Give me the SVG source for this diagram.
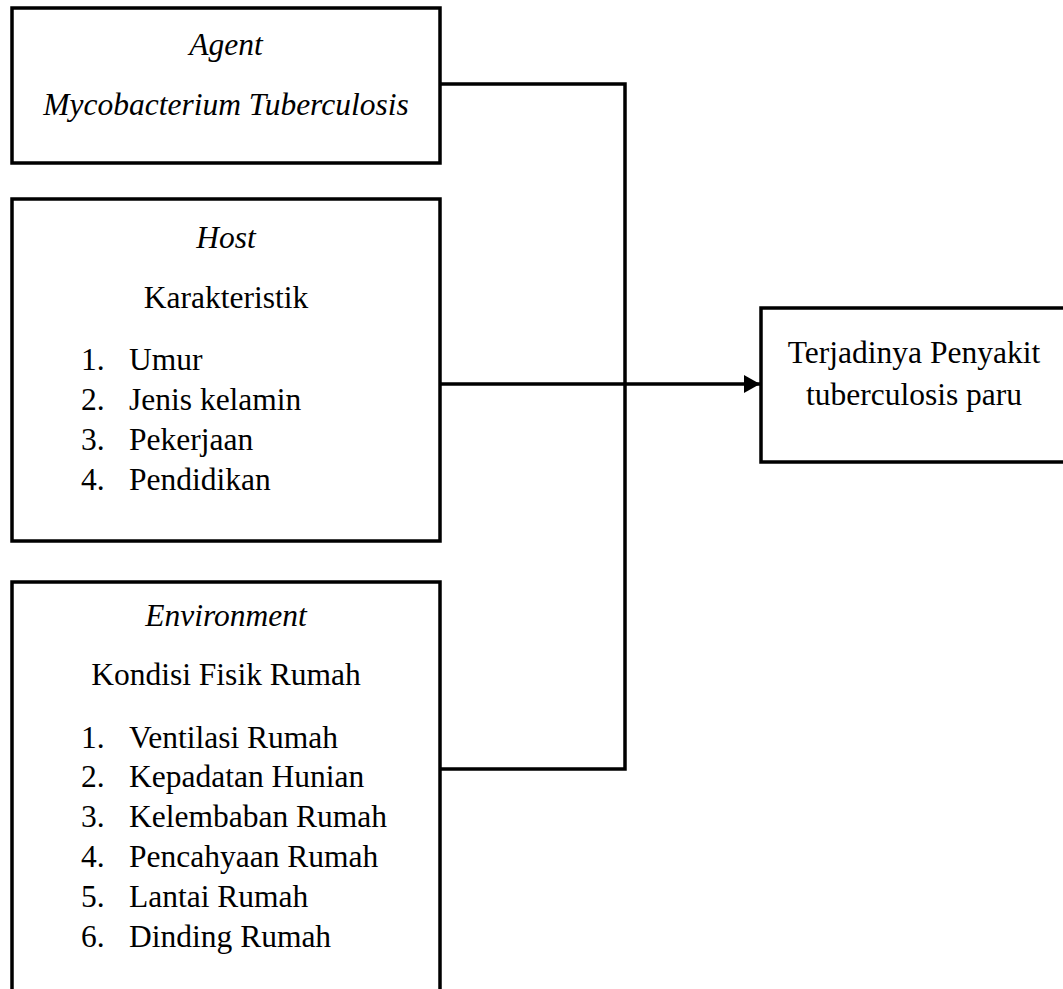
<svg xmlns="http://www.w3.org/2000/svg" width="1063" height="989" viewBox="0 0 1063 989">
<style>
.box{fill:#fff;stroke:#000;stroke-width:3.5}
.t{font-family:"Liberation Serif","Times New Roman",serif;font-size:31.5px;fill:#000}
.c{text-anchor:middle}
.i{font-style:italic}
.ln{fill:none;stroke:#000;stroke-width:3.5}
</style>
<defs>
<marker id="arr" markerUnits="userSpaceOnUse" markerWidth="18" markerHeight="18" refX="16" refY="9" orient="auto">
<path d="M0,0 L16,9 L0,18 Z" fill="#000"/>
</marker>
</defs>
<rect width="1063" height="989" fill="#fff"/>
<g id="agent">
<rect class="box" x="12" y="8" width="428" height="155"/>
<text class="t c i" x="226" y="55">Agent</text>
<text class="t c i" x="226" y="115">Mycobacterium Tuberculosis</text>
</g>
<g id="host">
<rect class="box" x="12" y="199" width="428" height="342"/>
<text class="t c i" x="226" y="248">Host</text>
<text class="t c" x="226" y="308">Karakteristik</text>
<text class="t" x="81" y="370">1.</text><text class="t" x="129" y="370">Umur</text>
<text class="t" x="81" y="410">2.</text><text class="t" x="129" y="410">Jenis kelamin</text>
<text class="t" x="81" y="450">3.</text><text class="t" x="129" y="450">Pekerjaan</text>
<text class="t" x="81" y="490">4.</text><text class="t" x="129" y="490">Pendidikan</text>
</g>
<g id="environment">
<rect class="box" x="12" y="582" width="428" height="430"/>
<text class="t c i" x="226" y="626">Environment</text>
<text class="t c" x="226" y="685">Kondisi Fisik Rumah</text>
<text class="t" x="81" y="748">1.</text><text class="t" x="129" y="748">Ventilasi Rumah</text>
<text class="t" x="81" y="787">2.</text><text class="t" x="129" y="787">Kepadatan Hunian</text>
<text class="t" x="81" y="827">3.</text><text class="t" x="129" y="827">Kelembaban Rumah</text>
<text class="t" x="81" y="867">4.</text><text class="t" x="129" y="867">Pencahyaan Rumah</text>
<text class="t" x="81" y="907">5.</text><text class="t" x="129" y="907">Lantai Rumah</text>
<text class="t" x="81" y="947">6.</text><text class="t" x="129" y="947">Dinding Rumah</text>
</g>
<g id="outcome">
<rect class="box" x="761" y="308" width="320" height="154"/>
<text class="t c" x="914" y="363">Terjadinya Penyakit</text>
<text class="t c" x="914" y="405">tuberculosis paru</text>
</g>
<g id="connectors">
<path class="ln" d="M440,84 H625 V769 H440"/>
<path class="ln" d="M440,384 H760" marker-end="url(#arr)"/>
</g>
</svg>
